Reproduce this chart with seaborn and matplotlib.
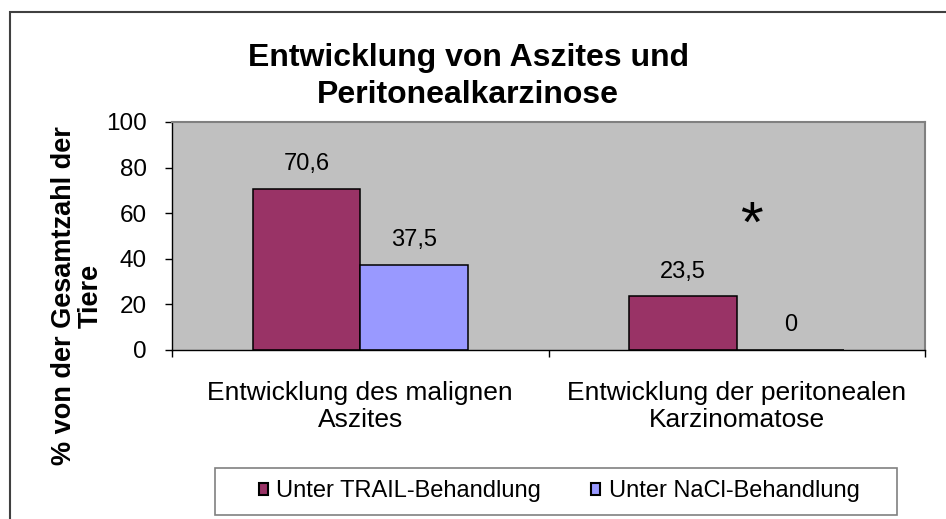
import pandas as pd
import seaborn as sns
import matplotlib.pyplot as plt
from matplotlib.patches import Rectangle, Patch

# data
categories = ["Entwicklung des malignen\nAszites", "Entwicklung der peritonealen\nKarzinomatose"]
groups = ["Unter TRAIL-Behandlung", "Unter NaCl-Behandlung"]
trail = [70.6, 23.5]
nacl = [37.5, 0]
yticks = [0, 20, 40, 60, 80, 100]
colors = ["#993366", "#9999FF"]

df = pd.DataFrame({
    "Kategorie": categories * 2,
    "Gruppe": [groups[0]] * 2 + [groups[1]] * 2,
    "Wert": trail + nacl,
})

sns.set_theme(style="white")
plt.rcParams["font.family"] = ["Liberation Sans", "DejaVu Sans"]
plt.rcParams["text.color"] = "black"
plt.rcParams["axes.labelcolor"] = "black"
plt.rcParams["xtick.color"] = "black"
plt.rcParams["ytick.color"] = "black"

fig = plt.figure(figsize=(9.46, 5.19), dpi=100)
ax = fig.add_axes([172 / 946, 1 - 350 / 519, 753 / 946, 228 / 519])
ax.set_facecolor("#C0C0C0")

sns.barplot(data=df, x="Kategorie", y="Wert", hue="Gruppe", order=categories,
            hue_order=groups, palette=colors, saturation=1, width=0.571,
            edgecolor="black", linewidth=1.1, errorbar=None, ax=ax)
ax.get_legend().remove()

ax.set_xlim(-0.5, 1.5)
ax.set_ylim(0, 100)
ax.set_yticks(yticks)
ax.set_xticks([0, 1])
ax.set_xticklabels(categories, fontsize=19)
ax.set_xticks([-0.5, 0.5, 1.5], minor=True)
ax.tick_params(axis="x", which="major", length=0, pad=22)
ax.tick_params(axis="x", which="minor", bottom=True, direction="out", length=5, width=1, color="black")
ax.tick_params(axis="y", left=True, direction="out", length=5, width=1, color="black",
               labelsize=17.5, pad=13)
ax.set_xlabel("")

ax.set_ylabel("% von der Gesamtzahl der\nTiere", fontsize=19.5, fontweight="bold", linespacing=1.05)
ax.yaxis.label.set_va("center")
ax.yaxis.set_label_coords(-0.1255, 0.237)

for sp in ["top", "right"]:
    ax.spines[sp].set_color("#808080")
    ax.spines[sp].set_linewidth(1.5)
for sp in ["left", "bottom"]:
    ax.spines[sp].set_color("black")
    ax.spines[sp].set_linewidth(1)

for cont, vals in zip(ax.containers, [trail, nacl]):
    labs = [f"{v:.1f}".replace(".", ",") if v else "0" for v in vals]
    ax.bar_label(cont, labels=labs, padding=10, fontsize=17)

# significance marker
ax.text(1.038, 47.5, "*", fontsize=42, ha="center", va="baseline")

fig.text(468 / 946, 1 - 43 / 519, "Entwicklung von Aszites und\nPeritonealkarzinose",
         fontsize=23, fontweight="bold", ha="center", va="top", linespacing=1.3)

handles = [Patch(facecolor=c, edgecolor="black", linewidth=1.5) for c in colors]
fig.legend(handles, groups, loc="center", bbox_to_anchor=((256 + 862) / 2 / 946, 1 - 491.5 / 519),
           ncol=2, frameon=False, fontsize=17, handlelength=0.4, handleheight=0.4,
           handletextpad=0.35, columnspacing=2.1)
fig.patches.append(Rectangle((215 / 946, 1 - 515 / 519), (897 - 215) / 946, 47 / 519,
                             transform=fig.transFigure, fill=False, edgecolor="#808080", linewidth=1.2))
fig.patches.append(Rectangle((10 / 946, -0.05), 1.0, 1.05 - 12 / 519, transform=fig.transFigure,
                             fill=False, edgecolor="#404040", linewidth=1.5))

fig.savefig("out.png", dpi=100)
